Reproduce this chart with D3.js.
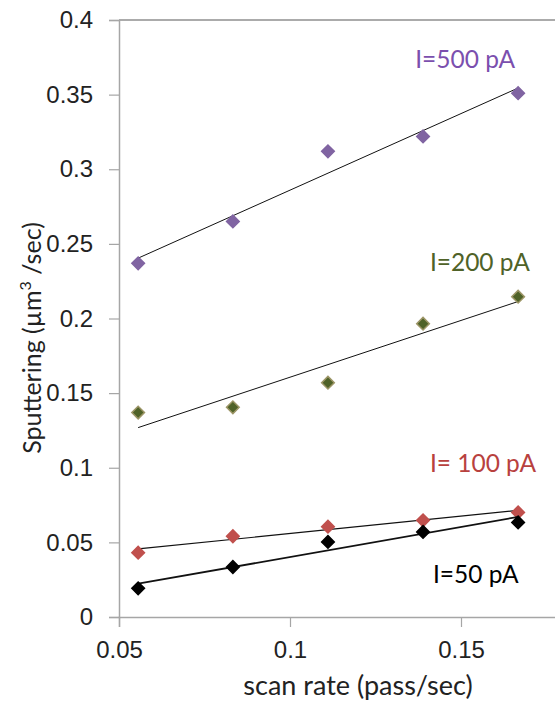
<!DOCTYPE html>
<html>
<head>
<meta charset="utf-8">
<script src="https://cdn.jsdelivr.net/npm/d3@7"></script>
<style>
  html, body { margin: 0; padding: 0; background: #fff; }
  svg { display: block; font-family: Lato, "Open Sans", sans-serif; }
</style>
</head>
<body>
<div id="chart"></div>
<script>
// scan rate (pass/sec)
const scanRate = [0.0556, 0.0833, 0.1111, 0.1389, 0.1667];

const series = [
  { label: "I=500 pA",  color: "#8064a2", stroke: "#8064a2", text: "#7b4fae", lw: 1,   values: [0.237, 0.265, 0.312, 0.322, 0.351] },
  { label: "I=200 pA",  color: "#4f6228", stroke: "#9c9566", text: "#4f6228", lw: 1,   values: [0.137, 0.1405, 0.157, 0.1965, 0.2146] },
  { label: "I= 100 pA", color: "#c0504d", stroke: "#c0504d", text: "#b8413e", lw: 1.2, values: [0.0431, 0.0541, 0.0605, 0.0648, 0.0701] },
  { label: "I=50 pA",   color: "#000000", stroke: "#000000", text: "#000000", lw: 1.8, values: [0.0192, 0.0335, 0.0503, 0.057, 0.0634] }
];

// label anchors in data units (x = left edge, y = baseline)
const labelPos = [[0.1366, 0.3678], [0.1409, 0.2318], [0.1409, 0.0972], [0.1418, 0.0228]];

const xTicks = [0.05, 0.1, 0.15];
const yTicks = [0, 0.05, 0.1, 0.15, 0.2, 0.25, 0.3, 0.35, 0.4];

const W = 555, H = 704;
const svg = d3.select("#chart").append("svg").attr("width", W).attr("height", H);

const x = d3.scaleLinear().domain([0.05, 0.18]).range([119, 563.6]);
const y = d3.scaleLinear().domain([0, 0.4]).range([617, 20]);

const axisColor = "#a6a6a6";

// top border
svg.append("line")
  .attr("x1", x(0.05)).attr("x2", W)
  .attr("y1", y(0.4)).attr("y2", y(0.4))
  .attr("stroke", "#595959").attr("stroke-width", 1.2);

// ── Y axis ──
const yAxis = svg.append("g").attr("transform", `translate(${x(0.05)},0)`)
  .call(d3.axisLeft(y).tickValues(yTicks).tickSize(10).tickPadding(16)
    .tickFormat(d => d3.format("")(+d.toFixed(2))));
yAxis.select(".domain").attr("stroke", axisColor).attr("stroke-width", 1.5);
yAxis.selectAll(".tick line").attr("stroke", axisColor).attr("stroke-width", 1.2);
yAxis.selectAll(".tick text")
  .style("font-size", "24px").attr("fill", "#222");

// ── X axis ──
const xAxis = svg.append("g").attr("transform", `translate(0,${y(0)})`)
  .call(d3.axisBottom(x).tickValues(xTicks).tickSize(10).tickPadding(14)
    .tickFormat(d => d3.format("")(+d.toFixed(2))));
xAxis.select(".domain").attr("stroke", axisColor).attr("stroke-width", 1.5);
xAxis.selectAll(".tick line").attr("stroke", axisColor).attr("stroke-width", 1.2);
xAxis.selectAll(".tick text")
  .style("font-size", "24px").attr("fill", "#222");

// axis titles
svg.append("text")
  .attr("x", 358).attr("y", 695)
  .attr("text-anchor", "middle")
  .style("font-size", "27px").attr("fill", "#222")
  .text("scan rate (pass/sec)");

const yt = svg.append("text")
  .attr("transform", `translate(41,338) rotate(-90)`)
  .attr("text-anchor", "middle")
  .style("font-size", "25px").attr("fill", "#222");
yt.append("tspan").text("Sputtering (µm");
yt.append("tspan").attr("dy", -10).style("font-size", "16px").text("3");
yt.append("tspan").attr("dy", 10).text(" /sec)");

// least-squares trend
function fit(xs, ys) {
  const mx = d3.mean(xs), my = d3.mean(ys);
  const sxy = d3.sum(xs, (v, i) => (v - mx) * (ys[i] - my));
  const sxx = d3.sum(xs, v => (v - mx) ** 2);
  const m = sxy / sxx;
  return v => my + m * (v - mx);
}

const x0 = d3.min(scanRate), x1 = d3.max(scanRate);

series.forEach((s, k) => {
  const f = fit(scanRate, s.values);
  svg.append("line")
    .attr("x1", x(x0)).attr("y1", y(f(x0)))
    .attr("x2", x(x1)).attr("y2", y(f(x1)))
    .attr("stroke", "#111").attr("stroke-width", s.lw);

  svg.append("g").selectAll("path")
    .data(s.values)
    .join("path")
    .attr("d", d3.symbol(d3.symbolSquare, 80))
    .attr("transform", (d, i) => `translate(${x(scanRate[i])},${y(d)}) rotate(45)`)
    .attr("fill", s.color)
    .attr("stroke", s.stroke)
    .attr("stroke-width", 1.5);

  svg.append("text")
    .attr("x", x(labelPos[k][0])).attr("y", y(labelPos[k][1]))
    .style("font-size", "24.5px")
    .attr("fill", s.text)
    .text(s.label);
});
</script>
</body>
</html>
